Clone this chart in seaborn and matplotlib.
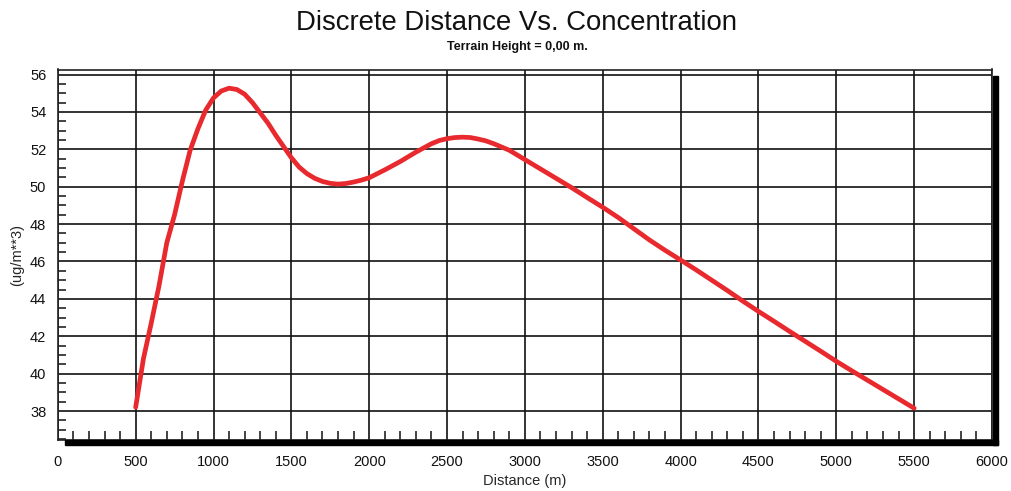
import numpy as np
import pandas as pd
import matplotlib
matplotlib.use("Agg")
import matplotlib.pyplot as plt
from matplotlib.patches import Rectangle
from matplotlib.ticker import MultipleLocator
import seaborn as sns

# Receptor distances (m) and predicted concentrations (ug/m**3)
distance = [500, 550, 600, 650, 700, 750, 800, 850, 900, 950, 1000,
            1050, 1100, 1150, 1200, 1250, 1300, 1350, 1400, 1450, 1500,
            1550, 1600, 1650, 1700, 1750, 1800, 1850, 1900, 1950, 2000,
            2100, 2200, 2300, 2400, 2450, 2500, 2550, 2600, 2650, 2700,
            2750, 2800, 2900, 3000, 3100, 3200, 3300, 3400, 3500,
            3600, 3700, 3800, 3900, 4000, 4100, 4200, 4300, 4400, 4500,
            4600, 4700, 4800, 4900, 5000, 5100, 5200, 5300, 5400, 5500]
concentration = [38.2, 40.8, 42.7, 44.7, 47.0, 48.5, 50.3, 51.95, 53.1, 54.1, 54.75,
                 55.12, 55.27, 55.2, 54.95, 54.5, 53.95, 53.4, 52.75, 52.15, 51.55,
                 51.05, 50.7, 50.45, 50.28, 50.18, 50.14, 50.17, 50.25, 50.35, 50.48,
                 50.9, 51.35, 51.85, 52.3, 52.47, 52.57, 52.63, 52.65, 52.63, 52.55,
                 52.45, 52.3, 51.95, 51.45, 50.95, 50.45, 49.95, 49.42, 48.9,
                 48.35, 47.75, 47.15, 46.6, 46.08, 45.55, 45.0, 44.45, 43.88, 43.33,
                 42.8, 42.26, 41.73, 41.2, 40.66, 40.15, 39.65, 39.15, 38.65, 38.15]

title = "Discrete Distance Vs. Concentration"
subtitle = "Terrain Height = 0,00 m."
x_label = "Distance (m)"
y_label = "(ug/m**3)"

df = pd.DataFrame({"Distance": distance, "Concentration": concentration})

sns.set_style("white")
plt.rcParams["font.family"] = ["Liberation Sans", "DejaVu Sans"]

W, H = 1011, 491
fig = plt.figure(figsize=(W / 100, H / 100), dpi=100)
left, right, top, bottom = 57.8, 992.0, 69.5, 440.0
ax = fig.add_axes([left / W, 1 - bottom / H, (right - left) / W, (bottom - top) / H])

ax.set_xlim(0, 6000)
ax.set_ylim(36.45, 56.27)

# grid
ax.xaxis.set_major_locator(MultipleLocator(500))
ax.xaxis.set_minor_locator(MultipleLocator(100))
ax.yaxis.set_major_locator(MultipleLocator(2))
ax.yaxis.set_minor_locator(MultipleLocator(0.5))
ax.grid(True, which="major", color="#111111", linewidth=1.2)
ax.set_axisbelow(True)

sns.lineplot(data=df, x="Distance", y="Concentration", ax=ax,
             color="#e8292d", linewidth=3.4, zorder=3)

for s in ax.spines.values():
    s.set_color("#222222")
    s.set_linewidth(1.2)

ax.tick_params(axis="both", which="major", direction="out", color="#111111",
               labelsize=10.5, labelcolor="#111111", width=1.1)
ax.tick_params(axis="y", which="major", length=4.8, pad=3.5)
ax.tick_params(axis="x", which="major", length=7.5, pad=3)
ax.tick_params(axis="both", which="minor", direction="in", color="#111111", width=1.1)
ax.tick_params(axis="x", which="minor", length=6.8, bottom=True)
ax.tick_params(axis="y", which="minor", length=5.8, left=True)

ax.set_xlabel(x_label, fontsize=10.5, labelpad=4)
ax.set_ylabel(y_label, fontsize=10.5, labelpad=4)

fig.text(517 / W, 1 - 23 / H, title, ha="center", va="center", fontsize=19.8, color="#111111")
fig.text(517 / W, 1 - 47 / H, subtitle, ha="center", va="center", fontsize=9,
         fontweight="bold", color="#111111")

# drop shadow along bottom and right edges of the frame
fig.add_artist(Rectangle((65 / W, 1 - 444.5 / H), (998 - 65) / W, 5 / H,
                         transform=fig.transFigure, color="black", zorder=5))
fig.add_artist(Rectangle((993 / W, 1 - 444.5 / H), 5 / W, (444.5 - 76) / H,
                         transform=fig.transFigure, color="black", zorder=5))

fig.savefig("out.png", dpi=100)
